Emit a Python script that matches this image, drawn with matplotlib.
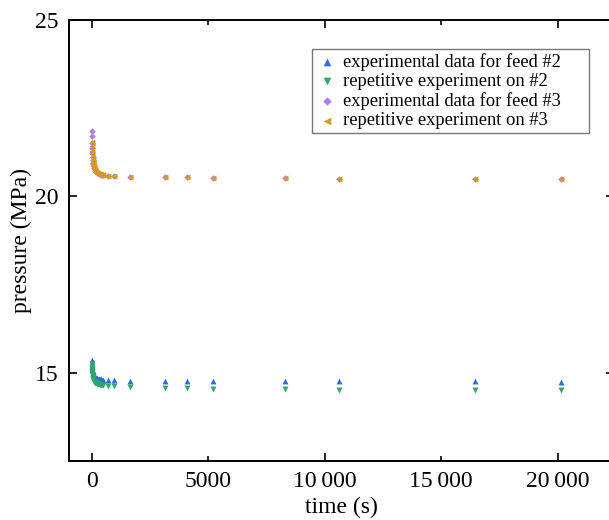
import numpy as np
import matplotlib.pyplot as plt
from matplotlib.ticker import FixedLocator, FuncFormatter

plt.rcParams['font.family'] = ['Liberation Serif', 'DejaVu Serif']

# feed #2 (blue) and its repeat (green)
t_feed2 = [0, 5, 10, 15, 20, 30, 40, 50, 60, 80, 100, 120, 150, 180, 210, 250,
           300, 350, 400, 450, 500, 700, 960, 1660, 3160, 4090, 5200, 8300,
           10600, 16450, 20150]
p_feed2 = [15.35, 15.27, 15.20, 15.14, 15.09, 15.04, 15.00, 14.97, 14.95, 14.92,
           14.90, 14.88, 14.86, 14.85, 14.84, 14.83, 14.82, 14.81, 14.81, 14.80,
           14.80, 14.79, 14.79, 14.78, 14.78, 14.77, 14.77, 14.76, 14.76, 14.76,
           14.75]
t_rep2 = t_feed2
p_rep2 = [15.25, 15.17, 15.10, 15.04, 14.99, 14.93, 14.89, 14.85, 14.82, 14.78,
          14.75, 14.73, 14.71, 14.70, 14.69, 14.68, 14.67, 14.66, 14.66, 14.65,
          14.65, 14.63, 14.62, 14.60, 14.57, 14.56, 14.55, 14.53, 14.52, 14.51,
          14.50]

# feed #3 (purple) and its repeat (orange)
t_feed3 = t_feed2
p_feed3 = [21.85, 21.70, 21.52, 21.36, 21.24, 21.12, 21.03, 20.96, 20.91, 20.85,
           20.80, 20.77, 20.73, 20.70, 20.68, 20.66, 20.64, 20.63, 20.62, 20.61,
           20.60, 20.59, 20.58, 20.56, 20.55, 20.54, 20.53, 20.51, 20.50, 20.49,
           20.49]
t_rep3 = t_feed2
p_rep3 = [21.55, 21.42, 21.30, 21.20, 21.12, 21.03, 20.96, 20.91, 20.87, 20.82,
          20.78, 20.75, 20.72, 20.69, 20.67, 20.65, 20.64, 20.63, 20.62, 20.61,
          20.60, 20.59, 20.58, 20.56, 20.55, 20.54, 20.53, 20.51, 20.50, 20.49,
          20.49]

fig = plt.figure(figsize=(6.09, 5.2), dpi=100)
ax = fig.add_axes([0.1125, 0.1135, 0.895, 0.848])

ax.scatter(t_feed2, p_feed2, marker='^', s=18, color='#2a6fe0', lw=0,
           label='experimental data for feed #2')
ax.scatter(t_rep2, p_rep2, marker='v', s=18, color='#2ea76a', lw=0,
           label='repetitive experiment on #2')
ax.scatter(t_feed3, p_feed3, marker='D', s=11, color='#b07cf0', lw=0,
           label='experimental data for feed #3')
ax.scatter(t_rep3, p_rep3, marker='<', s=18, color='#d69a1c', lw=0,
           label='repetitive experiment on #3')

ax.set_xlim(-1000, 22400)
ax.set_ylim(12.5, 25)

ax.xaxis.set_major_locator(FixedLocator([0, 10000, 20000]))
ax.xaxis.set_minor_locator(FixedLocator([5000, 15000]))
fmt = FuncFormatter(lambda v, pos: f'{int(v)}' if v < 10000 else f'{int(v):,}'.replace(',', '\u2009'))
ax.xaxis.set_major_formatter(fmt)
ax.xaxis.set_minor_formatter(fmt)
ax.set_yticks([15, 20, 25])

ax.tick_params(which='both', direction='in', top=True, right=True,
               labelsize=17, width=1.2, pad=7)
ax.tick_params(which='major', length=6)
ax.tick_params(which='minor', length=3.5)
for sp in ax.spines.values():
    sp.set_linewidth(1.4)

ax.set_xlabel('time (s)', fontsize=17, labelpad=4)
ax.set_ylabel('pressure (MPa)', fontsize=17, labelpad=2)

leg = ax.legend(loc='upper left',
                bbox_to_anchor=(312 / 609, 1 - 135 / 520, 277 / 609, 86 / 520),
                bbox_transform=fig.transFigure, mode='expand',
                fontsize=13.3, frameon=True,
                fancybox=False, edgecolor='#777777', framealpha=1,
                handletextpad=0.3, labelspacing=0.125, borderpad=0.2,
                borderaxespad=0, markerscale=1.3, handlelength=1.2)
leg.get_frame().set_linewidth(1.0)

fig.savefig('out.png', dpi=100)
